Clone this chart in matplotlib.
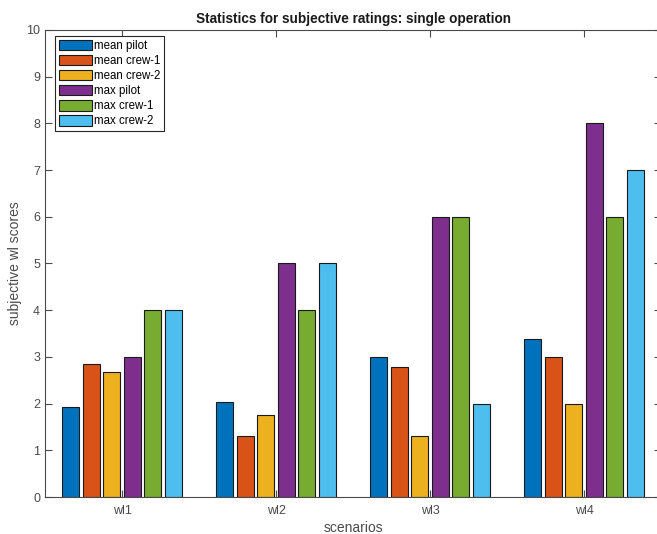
import matplotlib.pyplot as plt
import numpy as np

plt.rcParams['font.family'] = ['Liberation Sans', 'DejaVu Sans']

# Data
scenarios = ['wl1', 'wl2', 'wl3', 'wl4']
series_names = ['mean pilot', 'mean crew-1', 'mean crew-2', 'max pilot', 'max crew-1', 'max crew-2']
mean_pilot = [1.93, 2.04, 3.0, 3.39]
mean_crew1 = [2.85, 1.31, 2.78, 3.0]
mean_crew2 = [2.68, 1.76, 1.31, 2.0]
max_pilot = [3, 5, 6, 8]
max_crew1 = [4, 4, 6, 6]
max_crew2 = [4, 5, 2, 7]
series = [mean_pilot, mean_crew1, mean_crew2, max_pilot, max_crew1, max_crew2]

colors = ['#0072BD', '#D95319', '#EDB120', '#7E2F8E', '#77AC30', '#4DBEEE']
axis_color = '#4a4a4a'

fig = plt.figure(figsize=(6.57, 5.34), dpi=100)
ax = fig.add_axes([45 / 657, 37 / 534, 616 / 657, 467 / 534])

x = np.arange(1, len(scenarios) + 1)
step = 0.8 / len(series)
bar_w = step * 0.84
for i, (vals, name, col) in enumerate(zip(series, series_names, colors)):
    offset = (i - (len(series) - 1) / 2) * step
    ax.bar(x + offset, vals, width=bar_w, color=col, edgecolor='#1a1a1a',
           linewidth=0.8, label=name, zorder=2)

ax.set_xlim(0.5, 4.5)
ax.set_ylim(0, 10)
ax.set_xticks(x)
ax.set_xticklabels(scenarios)
ax.set_yticks(np.arange(0, 11, 1))

ax.tick_params(axis='both', direction='in', length=5, width=0.8,
               colors=axis_color, labelsize=9, top=True, right=True)
ax.tick_params(axis='x', pad=6)
for s in ax.spines.values():
    s.set_color(axis_color)
    s.set_linewidth(0.8)
ax.spines['right'].set_visible(False)

ax.set_title('Statistics for subjective ratings: single operation',
             fontsize=9.8, fontweight='bold', color='#1a1a1a', pad=5)
ax.set_xlabel('scenarios', fontsize=10, color=axis_color, labelpad=3)
ax.set_ylabel('subjective wl scores', fontsize=10, color=axis_color, labelpad=3)

leg = ax.legend(loc='upper left', bbox_to_anchor=(0.016, 0.988), fontsize=8.3,
                handlelength=2.9, handleheight=1.05, handletextpad=0.15,
                labelspacing=0.24, borderpad=0.35, fancybox=False,
                framealpha=1, borderaxespad=0)
leg.get_frame().set_edgecolor('#262626')
leg.get_frame().set_linewidth(0.8)

fig.savefig('out.png', dpi=100)
